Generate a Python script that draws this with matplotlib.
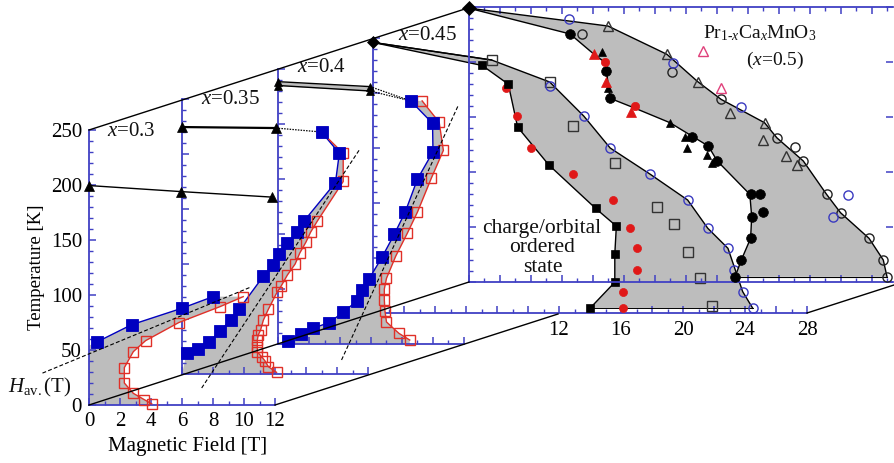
import matplotlib
matplotlib.use('Agg')
import matplotlib.pyplot as plt
from matplotlib.ticker import MultipleLocator

plt.rcParams['font.family'] = ['Liberation Serif', 'DejaVu Serif']
plt.rcParams['mathtext.fontset'] = 'custom'
plt.rcParams['mathtext.rm'] = 'Liberation Serif'
plt.rcParams['mathtext.it'] = 'Liberation Serif:italic'
plt.rcParams['mathtext.bf'] = 'Liberation Serif:bold'

# ---- data: (field [T], temperature [K]) ----
p30_blue_h = [0.54, 2.75, 6.0, 8.0]
p30_blue_t = [57.5, 73, 88, 98.5]
p30_red_h = [4.05, 3.55, 2.86, 2.28, 2.28, 2.86, 3.65, 5.8, 8.45, 9.95]
p30_red_t = [1, 5, 10.6, 20, 34, 48.5, 58.5, 75, 89.4, 98.5]
p30_tri_h = [0, 5.94, 11.8]
p30_tri_t = [199.5, 194, 189]
p30_av_h = [-3.0, 10.4]
p30_av_t = [29, 107]

p35_blue_h = [0.3, 1.05, 1.74, 2.45, 3.14, 3.68, 5.25, 5.9, 6.28, 6.8, 7.44, 7.87, 9.9, 10.15, 9.0]
p35_blue_t = [18.8, 22.7, 28.8, 39, 49, 58.8, 89, 99, 109, 118.8, 129, 139, 174, 200.6, 220]
p35_red_h = [6.1, 5.57, 5.35, 5.14, 4.86, 4.86, 4.86, 4.92, 5.07, 5.25, 5.57, 6.15, 6.4, 6.8, 7.3, 7.6,
             8.0, 8.3, 8.73, 10.4, 10.4]
p35_red_t = [1.5, 6.7, 12, 15.7, 20, 25, 31, 35.5, 40, 49, 58.8, 74.8, 80, 90, 100, 110,
             120, 129, 139, 175, 200.6]
p35_tri_h = [0, 6.06]
p35_tri_t = [224.5, 223.6]
p35_av_h = [1.27, 11.5]
p35_av_t = [-12.7, 205]

p40_blue_h = [0.66, 1.46, 2.24, 3.29, 4.2, 5.08, 5.4, 5.87, 6.73, 7.5, 8.2, 9.0, 10.0, 9.97, 8.56]
p40_blue_t = [3, 9, 14.3, 19.4, 28.8, 39, 49, 59, 79.4, 99.7, 119.7, 150, 174.8, 200.6, 221]
p40_red_h = [8.5, 7.8, 7.0, 6.9, 6.86, 6.86, 7.0, 7.6, 8.34, 9.0, 9.9, 10.67, 10.4, 9.3]
p40_red_t = [3.6, 9.7, 20, 30, 40, 50, 59.7, 80, 100.6, 120, 151, 176, 201.5, 221]
p40_tri_h = [0, 5.94]
p40_tri_hi = [238.5, 234]
p40_tri_lo = [235, 230]
p40_av_h = [4.1, 11.6]
p40_av_t = [-14.5, 216]

p45_sq_h = [7.05, 8.73, 9.33, 11.35, 14.37, 15.7, 15.6, 15.6, 14.0]
p45_sq_t = [225, 208, 169, 134.5, 95, 79, 53.6, 28, 4.3]
p45_red_h = [8.6, 9.27, 10.2, 12.9, 15.5, 16.6, 17.0, 17.0, 16.1, 16.1]
p45_red_t = [204.8, 179, 150, 126, 102.7, 77, 58.8, 39, 19.4, 4.3]
p45_osq_h = [7.65, 11.4, 12.9, 15.6, 18.3, 19.4, 20.3, 21.1, 21.85]
p45_osq_t = [230, 210, 170, 136, 96.6, 81, 55.7, 32, 6.4]
p45_circ_h = [11.4, 13.6, 15.3, 17.9, 20.3, 21.6, 22.9, 23.3, 23.85, 24.5]
p45_circ_t = [206, 179, 150, 126, 102.7, 77, 58.8, 39, 19.4, 4.3]
p45_inner_h = [0, 7.05, 8.73, 9.33, 11.35, 14.37, 15.7, 15.6, 15.6, 14.0]
p45_inner_t = [246, 225, 208, 169, 134.5, 95, 79, 53.6, 28, 4.3]
p45_outer_h = [0, 7.65, 11.4, 13.6, 15.3, 17.9, 20.3, 21.6, 22.9, 23.85, 24.5]
p45_outer_t = [246, 230, 210, 179, 150, 126, 102.7, 77, 58.8, 19.4, 4.3]

p50_dot_h = [6.55, 8.9, 9.13, 14.44, 15.47, 16.05, 18.2, 18.8, 19.0, 18.27, 18.2, 17.6, 17.2]
p50_dot_t = [225.5, 191.8, 167, 131.5, 123.6, 110, 79.7, 79.7, 63.6, 59.4, 39.7, 20, 4.8]
p50_tri_h = [8.63, 9.0, 13.0, 13.97, 14.07, 15.4, 15.7]
p50_tri_t = [209, 176, 144.8, 131.5, 122, 115.5, 108]
p50_rtri_h = [8.1, 8.9, 10.5]
p50_rtri_t = [207, 182, 155]
p50_rdot_h = [8.8, 10.74]
p50_rdot_t = [199.7, 160]
p50_ocirc_h = [7.34, 13.1, 16.3, 19.9, 21.06, 21.6, 23.1, 24.0, 25.84, 26.76, 27.0]
p50_ocirc_t = [225, 191, 166, 131, 123, 110, 79.7, 63, 39.7, 20, 4.8]
p50_bcirc_h = [6.5, 13.2, 17.6, 24.5, 23.5]
p50_bcirc_t = [239, 199.4, 159, 79, 59.4]
p50_otri_h = [9.0, 12.8, 14.8, 16.9, 19.1, 19.0, 20.5, 21.2]
p50_otri_t = [232.7, 207, 182, 154, 144.8, 129, 115, 106]
p50_ptri_h = [15.15, 16.3]
p50_ptri_t = [210, 176]
p50_inner_h = [0, 6.55, 8.1, 8.8, 8.9, 9.13, 10.74, 13.0, 15.47, 16.05, 18.15, 18.27, 18.2, 17.6, 17.2]
p50_inner_t = [249, 225.5, 207, 199.7, 191.8, 167, 158, 144.8, 123.6, 110, 79.7, 59.4, 39.7, 20, 4.8]
p50_outer_h = [0, 9.0, 12.8, 14.8, 16.3, 19.1, 19.9, 21.6, 23.1, 24.0, 25.84, 26.76, 27.0]
p50_outer_t = [249, 232.7, 207, 182, 166, 144.8, 131, 110, 79.7, 63, 39.7, 20, 4.8]

y_ticks = [0, 50, 100, 150, 200, 250]
x_ticks_small = [0, 2, 4, 6, 8, 10, 12]
x_labels_far = {12: '12', 16: '16', 20: '20', 24: '24', 28: '28'}

# ---- layout ----
W, H = 894, 463
PX_PER_T = 15.5
PX_PER_K = 1.1
BLUE = '#0000c0'
AXC = '#4040c4'
RED = '#e03028'
GRAY = '#bdbdbd'
FS = 15

fig = plt.figure(figsize=(W / 100, H / 100), dpi=100)


def panel(x0, y0, xmax, z, top=False):
    ax = fig.add_axes([x0 / W, 1 - y0 / H, xmax * PX_PER_T / W, 250 * PX_PER_K / H], zorder=z)
    ax.patch.set_alpha(0)
    ax.set_xlim(0, xmax)
    ax.set_ylim(0, 250)
    ax.spines['right'].set_visible(False)
    ax.spines['top'].set_visible(top)
    for s in ax.spines.values():
        s.set_color(AXC)
        s.set_linewidth(1.3)
    ax.xaxis.set_major_locator(MultipleLocator(2))
    ax.xaxis.set_minor_locator(MultipleLocator(1))
    ax.yaxis.set_major_locator(MultipleLocator(50))
    ax.yaxis.set_minor_locator(MultipleLocator(10))
    ax.tick_params(which='major', direction='in', length=5, width=1.1, color=AXC,
                   labelleft=False, labelbottom=False, top=top, right=top)
    ax.tick_params(which='minor', direction='in', length=3, width=1.0, color=AXC, top=top)
    return ax


def mk(ax, h, t, marker, ms, fc, ec, mew=1.0, z=5):
    ax.plot(h, t, ls='none', marker=marker, ms=ms, mfc=fc, mec=ec, mew=mew, clip_on=False, zorder=z)


def line(ax, h, t, c='k', lw=1.0, ls='-', z=4):
    ax.plot(h, t, color=c, lw=lw, ls=ls, clip_on=False, zorder=z)


def loop_panel(ax, bh, bt, rh, rt, base):
    poly_h = base[0] + list(bh) + list(rh)[::-1] + base[1]
    poly_t = base[2] + list(bt) + list(rt)[::-1] + base[3]
    ax.fill(poly_h, poly_t, color=GRAY, lw=0, clip_on=False, zorder=1)
    line(ax, bh, bt, c=BLUE, lw=1.0)
    line(ax, rh, rt, c=RED, lw=1.0)
    mk(ax, rh, rt, 's', 7, 'none', RED, 1.0, z=5)
    mk(ax, bh, bt, 's', 8, BLUE, BLUE, 0.6, z=6)


DASH = (0, (3.5, 2))

# x = 0.45 panel
a45 = panel(373, 313, 28, 2)
a45.set_xticks(range(0, 29, 2), labels=[x_labels_far.get(v, '') for v in range(0, 29, 2)])
a45.tick_params(axis='x', labelbottom=True, labelsize=FS, pad=6)
a45.fill(p45_inner_h + p45_outer_h[::-1], p45_inner_t + p45_outer_t[::-1], color=GRAY, lw=0, clip_on=False, zorder=1)
line(a45, p45_inner_h, p45_inner_t)
line(a45, p45_outer_h, p45_outer_t)
line(a45, [p45_sq_h[-1], p45_circ_h[-1]], [p45_sq_t[-1], p45_circ_t[-1]], lw=0.7)
mk(a45, p45_osq_h, p45_osq_t, 's', 6.8, 'none', '#333333', 1.0)
mk(a45, p45_circ_h, p45_circ_t, 'o', 6.6, 'none', '#3a3ac0', 1.0)
mk(a45, p45_red_h, p45_red_t, 'o', 5.8, '#e01818', '#e01818', 0.5)
mk(a45, p45_sq_h, p45_sq_t, 's', 5.6, 'k', 'k', 0.5)
mk(a45, [0], [246], 'D', 6.4, 'k', 'k', 0.5, z=7)

# x = 0.5 panel
a50 = panel(468.5, 282, 27.4, 3, top=True)
a50.fill(p50_inner_h + p50_outer_h[::-1], p50_inner_t + p50_outer_t[::-1], color=GRAY, lw=0, clip_on=False, zorder=1)
line(a50, p50_inner_h, p50_inner_t)
line(a50, p50_outer_h, p50_outer_t)
line(a50, [p50_inner_h[-1], p50_outer_h[-1]], [p50_inner_t[-1], p50_outer_t[-1]], lw=0.8)
mk(a50, p50_otri_h, p50_otri_t, '^', 7.2, 'none', '#333333', 1.0)
mk(a50, p50_ocirc_h, p50_ocirc_t, 'o', 6.6, 'none', '#222222', 1.0)
mk(a50, p50_bcirc_h, p50_bcirc_t, 'o', 6.6, 'none', '#3a3ac0', 1.0)
mk(a50, p50_ptri_h, p50_ptri_t, '^', 7.2, 'none', '#e0407a', 1.0)
mk(a50, p50_tri_h, p50_tri_t, '^', 6, 'k', 'k', 0.5)
mk(a50, p50_dot_h, p50_dot_t, 'o', 7, 'k', 'k', 0.5)
mk(a50, p50_rtri_h, p50_rtri_t, '^', 6.5, '#e01818', '#e01818', 0.5)
mk(a50, p50_rdot_h, p50_rdot_t, 'o', 6, '#e01818', '#e01818', 0.5)
mk(a50, [0], [249], 'D', 7, 'k', 'k', 0.5, z=7)

# x = 0.4 panel
a40 = panel(278, 344, 12, 4)
loop_panel(a40, p40_blue_h, p40_blue_t, p40_red_h, p40_red_t,
           ([0.0], [8.5, 0.0], [0.0], [0.0, 0.0]))
a40.fill_between(p40_tri_h, p40_tri_lo, p40_tri_hi, color=GRAY, lw=0, zorder=1)
line(a40, p40_tri_h, p40_tri_hi)
line(a40, p40_tri_h, p40_tri_lo)
mk(a40, p40_tri_h, p40_tri_hi, '^', 6.4, 'k', 'k', 0.5)
mk(a40, p40_tri_h, p40_tri_lo, '^', 6.4, 'k', 'k', 0.5)
line(a40, [p40_tri_h[1], p40_blue_h[-1]], [p40_tri_hi[1], p40_blue_t[-1]], lw=0.9, ls=(0, (1.2, 1)))
line(a40, [p40_tri_h[1], p40_blue_h[-1]], [p40_tri_lo[1], p40_blue_t[-1]], lw=0.9, ls=(0, (1.2, 1)))
line(a40, p40_av_h, p40_av_t, lw=0.8, ls=DASH, z=7)
# link from the x = 0.45 diamond to its first data point
line(a45, [p45_inner_h[0], p45_outer_h[1]], [p45_inner_t[0], p45_outer_t[1]], lw=1.0)

# x = 0.35 panel
a35 = panel(182, 374, 12, 5)
loop_panel(a35, p35_blue_h, p35_blue_t, p35_red_h + [p35_blue_h[-1]], p35_red_t + [p35_blue_t[-1]],
           ([0.0], [6.1, 0.0], [0.0], [0.0, 0.0]))
line(a35, p35_tri_h, p35_tri_t, lw=1.6)
mk(a35, p35_tri_h, p35_tri_t, '^', 6.8, 'k', 'k', 0.5)
line(a35, [p35_tri_h[1], p35_blue_h[-1]], [p35_tri_t[1], p35_blue_t[-1]], lw=0.9, ls=(0, (1.2, 1)))
line(a35, p35_av_h, p35_av_t, lw=0.8, ls=DASH, z=7)

# x = 0.3 panel
a30 = panel(89, 405, 12, 6)
loop_panel(a30, p30_blue_h, p30_blue_t, p30_red_h, p30_red_t,
           ([0.0, 0.0], [4.05, 0.0], [0.0, 54.0], [0.0, 0.0]))
line(a30, p30_tri_h, p30_tri_t, lw=1.0)
mk(a30, p30_tri_h, p30_tri_t, '^', 7, 'k', 'k', 0.5)
line(a30, p30_av_h, p30_av_t, lw=0.8, ls=DASH, z=7)
a30.set_yticks(y_ticks)
a30.set_xticks(x_ticks_small)
a30.tick_params(axis='both', labelleft=True, labelbottom=True, labelsize=FS, pad=5)
a30.set_xlabel('Magnetic Field [T]', fontsize=FS)
a30.xaxis.set_label_coords(0.53, -0.115)
a30.set_ylabel('Temperature [K]', fontsize=13.5)
a30.yaxis.set_label_coords(-0.235, 0.5)

# overlay in figure pixels for frame lines and annotations
ov = fig.add_axes([0, 0, 1, 1], zorder=10)
ov.patch.set_alpha(0)
ov.axis('off')
ov.set_xlim(0, W)
ov.set_ylim(H, 0)
ov.plot([89, 468], [130, 8], color='k', lw=1.0)
ov.plot([89, 469], [405, 282], color='k', lw=1.0)
ov.plot([275, 558], [405, 314], color='k', lw=1.0)
ov.plot([807, 894], [313, 285], color='k', lw=1.0)


def note(x, y, s, **kw):
    ov.text(x, y, s, ha='center', va='center', fontsize=kw.pop('fs', FS), color='#111111', **kw)


note(131, 132, r'$x$=0.3')
note(231, 99, r'$x$=0.35')
note(322, 68, r'$x$=0.4')
note(428, 36, r'$x$=0.45')
note(760, 33, r'Pr$_{1\text{-}x}$Ca$_x$MnO$_3$', fs=14)
note(775, 60, r'($x$=0.5)', fs=14)
note(542, 228, 'charge/orbital', fs=15.5)
note(542, 247, 'ordered', fs=15.5)
note(543, 268, 'state', fs=15.5)
note(40, 387, r'$H_{\mathrm{av.}}$(T)')

fig.savefig('out.png', dpi=100)
